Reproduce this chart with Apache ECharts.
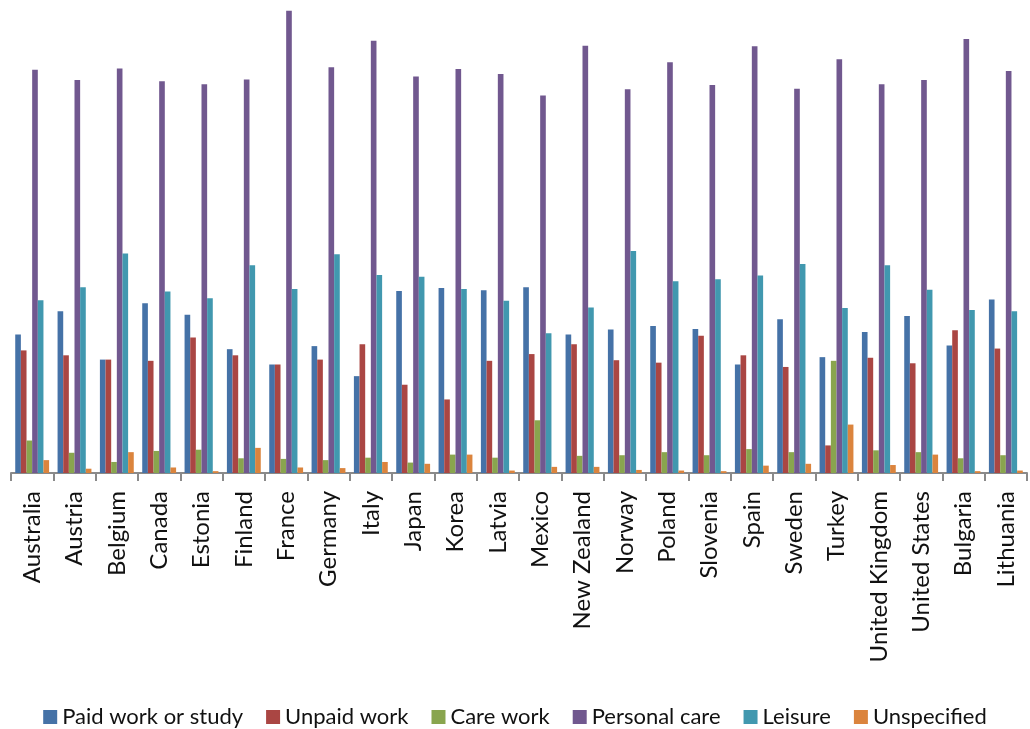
<!DOCTYPE html>
<html>
<head>
<meta charset="utf-8">
<title>Time use by country</title>
<script src="https://cdn.jsdelivr.net/npm/echarts@6/dist/echarts.min.js"></script>
<style>
  html, body { margin: 0; padding: 0; background: #ffffff; }
  #chart { width: 1030px; height: 729px; }
</style>
</head>
<body>
<div id="chart"></div>
<script>
// Minutes per day spent on each activity
const countries = ['Australia', 'Austria', 'Belgium', 'Canada', 'Estonia', 'Finland', 'France', 'Germany',
  'Italy', 'Japan', 'Korea', 'Latvia', 'Mexico', 'New Zealand', 'Norway', 'Poland', 'Slovenia', 'Spain',
  'Sweden', 'Turkey', 'United Kingdom', 'United States', 'Bulgaria', 'Lithuania'];

const paidWork     = [226, 264, 185, 277, 258, 202, 177, 207, 158, 297, 302, 298, 303, 226, 234, 240, 235, 177, 251, 189, 230, 256, 208, 283];
const unpaidWork   = [200, 192, 185, 183, 221, 192, 177, 185, 210, 144, 120, 183, 194, 210, 184, 180, 224, 192, 173,  45, 188, 179, 233, 203];
const careWork     = [ 53,  33,  18,  36,  38,  24,  23,  21,  25,  17,  30,  25,  86,  28,  29,  34,  29,  39,  34, 183,  37,  34,  24,  29];
const personalCare = [658, 641, 660, 639, 634, 642, 754, 662, 705, 647, 659, 651, 616, 697, 626, 670, 633, 696, 627, 675, 634, 641, 708, 656];
const leisure      = [282, 303, 358, 296, 285, 339, 300, 357, 323, 320, 300, 281, 228, 270, 362, 313, 316, 322, 341, 269, 339, 299, 266, 264];
const unspecified  = [ 21,   7,  34,   9,   3,  41,   9,   8,  18,  15,  30,   4,  10,  10,   5,   4,   3,  12,  15,  79,  13,  30,   3,   4];

const seriesNames  = ['Paid work or study', 'Unpaid work', 'Care work', 'Personal care', 'Leisure', 'Unspecified'];
const seriesValues = [paidWork, unpaidWork, careWork, personalCare, leisure, unspecified];
const palette      = ['#4572A7', '#AA4643', '#89A54E', '#71588F', '#4198AF', '#DB843D'];

const chart = echarts.init(document.getElementById('chart'), null, { renderer: 'canvas' });

chart.setOption({
  animation: false,
  color: palette,
  textStyle: { fontFamily: 'Lato, "Open Sans", sans-serif' },
  grid: { left: 11, right: 3, top: 1, bottom: 256, containLabel: false },
  legend: {
    data: seriesNames,
    left: 'center',
    top: 701,
    itemWidth: 14,
    itemHeight: 14,
    itemGap: 23,
    icon: 'rect',
    textStyle: { fontSize: 22, lineHeight: 22, color: '#111111', fontFamily: 'Lato, sans-serif' }
  },
  xAxis: {
    type: 'category',
    data: countries,
    boundaryGap: true,
    axisLine: { lineStyle: { color: '#8a8a8a', width: 2 } },
    axisTick: { show: true, length: 8, lineStyle: { color: '#8a8a8a', width: 2 } },
    axisLabel: {
      rotate: 90,
      interval: 0,
      margin: 18,
      fontSize: 24,
      color: '#111111',
      fontFamily: 'Lato, sans-serif'
    }
  },
  yAxis: {
    type: 'value',
    min: 0,
    max: 770,
    show: false,
    splitLine: { show: false }
  },
  series: seriesNames.map((name, i) => ({
    name: name,
    type: 'bar',
    data: seriesValues[i],
    barGap: '0%',
    barCategoryGap: '20%',
    itemStyle: { color: palette[i] }
  }))
});
</script>
</body>
</html>
